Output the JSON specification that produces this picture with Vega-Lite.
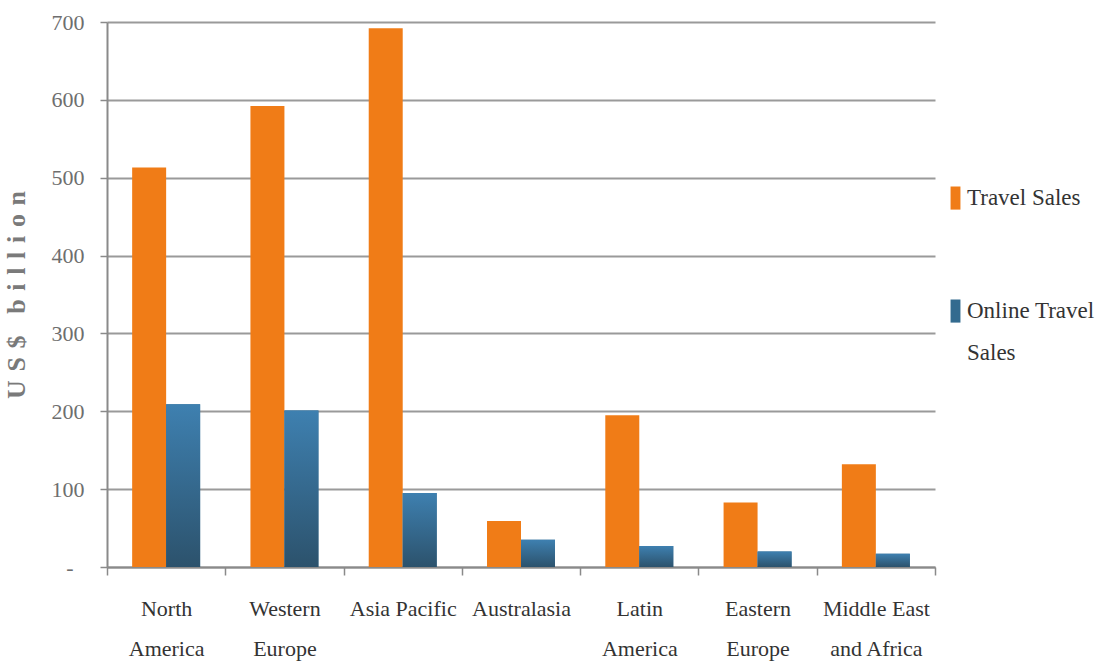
{
  "$schema": "https://vega.github.io/schema/vega-lite/v6.json",
  "autosize": "none",
  "width": 828,
  "height": 545,
  "padding": {"left": 107, "top": 22, "right": 165, "bottom": 103},
  "background": "white",
  "data": {
    "values": [
      {"region": "North America", "series": "Travel Sales", "value": 513},
      {"region": "North America", "series": "Online Travel Sales", "value": 209},
      {"region": "Western Europe", "series": "Travel Sales", "value": 592},
      {"region": "Western Europe", "series": "Online Travel Sales", "value": 201},
      {"region": "Asia Pacific", "series": "Travel Sales", "value": 692},
      {"region": "Asia Pacific", "series": "Online Travel Sales", "value": 95},
      {"region": "Australasia", "series": "Travel Sales", "value": 59},
      {"region": "Australasia", "series": "Online Travel Sales", "value": 35},
      {"region": "Latin America", "series": "Travel Sales", "value": 195},
      {"region": "Latin America", "series": "Online Travel Sales", "value": 27},
      {"region": "Eastern Europe", "series": "Travel Sales", "value": 83},
      {"region": "Eastern Europe", "series": "Online Travel Sales", "value": 20},
      {"region": "Middle East and Africa", "series": "Travel Sales", "value": 132},
      {"region": "Middle East and Africa", "series": "Online Travel Sales", "value": 17}
    ]
  },
  "config": {
    "view": {"stroke": null},
    "font": "Liberation Serif",
    "style": {"guide-label": {"lineHeight": 42}}
  },
  "encoding": {
    "x": {
      "field": "region",
      "type": "nominal",
      "sort": null,
      "scale": {"paddingInner": 0, "paddingOuter": 0},
      "axis": {
        "title": null,
        "labelAngle": 0,
        "labelFont": "Liberation Serif",
        "labelFontSize": 22,
        "labelColor": "#333333",
        "labelLineHeight": 40,
        "labelPadding": 23,
        "labelBaseline": "top",
        "labelExpr": "datum.label == 'North America' ? ['North', 'America'] : datum.label == 'Western Europe' ? ['Western', 'Europe'] : datum.label == 'Latin America' ? ['Latin', 'America'] : datum.label == 'Eastern Europe' ? ['Eastern', 'Europe'] : datum.label == 'Middle East and Africa' ? ['Middle East', 'and Africa'] : datum.label",
        "tickBand": "extent",
        "tickSize": 8,
        "tickColor": "#8a8a8a",
        "tickWidth": 1.5,
        "domainColor": "#8a8a8a",
        "domainWidth": 2,
        "grid": false
      }
    },
    "xOffset": {
      "field": "series",
      "type": "nominal",
      "sort": ["Travel Sales", "Online Travel Sales"],
      "scale": {"paddingInner": 0, "paddingOuter": 0.74}
    },
    "y": {
      "field": "value",
      "type": "quantitative",
      "scale": {"domain": [0, 700], "nice": false},
      "axis": {
        "title": "U\u2004S\u2004$\u2002\u2004b\u2004i\u2004l\u2004l\u2004i\u2004o\u2004n",
        "titleFont": "Liberation Serif",
        "titleFontSize": 26,
        "titleFontWeight": "bold",
        "titleColor": "#7a7a7a",
        "titlePadding": 22,
        "values": [0, 100, 200, 300, 400, 500, 600, 700],
        "labelExpr": "datum.value == 0 ? '-' : datum.label",
        "labelFont": "Liberation Serif",
        "labelFontSize": 22,
        "labelColor": "#6e6e6e",
        "labelPadding": {"condition": {"test": "datum.value == 0", "value": 27}, "value": 16},
        "tickSize": 7,
        "tickColor": "#8a8a8a",
        "tickWidth": 1.5,
        "domainColor": "#8a8a8a",
        "domainWidth": 2,
        "grid": true,
        "gridColor": "#9a9a9a",
        "gridWidth": 2
      }
    }
  },
  "layer": [
    {
      "mark": {"type": "bar"},
      "encoding": {
        "color": {
          "field": "series",
          "type": "nominal",
          "sort": ["Travel Sales", "Online Travel Sales"],
          "scale": {"domain": ["Travel Sales", "Online Travel Sales"], "range": ["#f07c17", "#336b8f"]},
          "legend": {
            "title": null,
            "orient": "none",
            "legendX": 837,
            "legendY": 153,
            "direction": "vertical",
            "labelFont": "Liberation Serif",
            "labelFontSize": 23,
            "labelColor": "#333333",
            "labelBaseline": "top",
            "labelOffset": 0,
            "labelLimit": 200,
            "rowPadding": 78,
            "symbolType": "M-0.45,0H0.45V2.1H-0.45Z",
            "symbolSize": 484,
            "symbolStrokeWidth": 0,
            "labelExpr": "datum.label == 'Online Travel Sales' ? ['Online Travel', 'Sales'] : datum.label"
          }
        }
      }
    },
    {
      "transform": [{"filter": "datum.series == 'Online Travel Sales'"}],
      "mark": {
        "type": "bar",
        "fill": {
          "gradient": "linear",
          "x1": 0, "y1": 0, "x2": 0, "y2": 1,
          "stops": [
            {"offset": 0, "color": "#3e80b0"},
            {"offset": 1, "color": "#2c526c"}
          ]
        }
      }
    }
  ]
}
